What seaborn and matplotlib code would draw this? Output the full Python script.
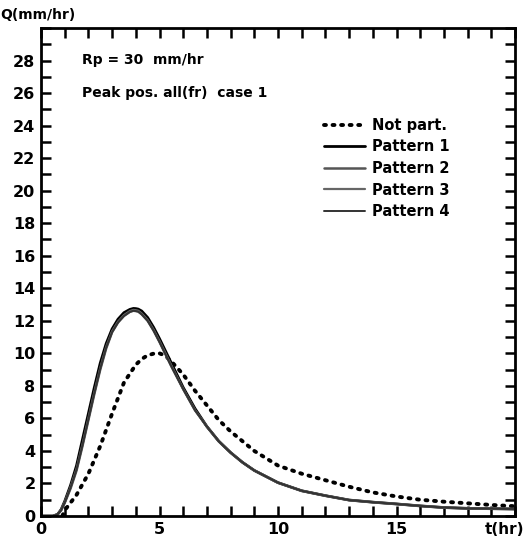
import numpy as np
import pandas as pd
import seaborn as sns
import matplotlib
matplotlib.use("Agg")
import matplotlib.pyplot as plt

# ---- data ----
t_np = [0.9, 1.0, 1.5, 2.0, 2.5, 3.0, 3.5, 4.0, 4.25, 4.5, 4.75, 5.0, 5.25, 5.5, 6.0, 6.5, 7.0, 7.5,
        8.0, 9.0, 10, 11, 12, 13, 14, 15, 16, 17, 18, 19, 20]
q_np = [0.0, 0.35, 1.3, 2.6, 4.3, 6.3, 8.2, 9.3, 9.65, 9.88, 9.98, 10.0, 9.85, 9.5, 8.7, 7.7, 6.8, 5.9,
        5.2, 4.0, 3.1, 2.6, 2.2, 1.8, 1.45, 1.2, 1.0, 0.88, 0.78, 0.68, 0.6]

t_pat = [0, 0.5, 0.7, 0.85, 1.0, 1.25, 1.5, 1.75, 2.0, 2.25, 2.5, 2.75, 3.0, 3.25, 3.5, 3.75,
         3.9, 4.0, 4.1, 4.25, 4.5, 4.75, 5.0, 5.5, 6, 6.5, 7, 7.5, 8, 8.5, 9, 10, 11, 12, 13, 14, 15,
         16, 17, 18, 19, 20]
q_p1 = [0, 0, 0.1, 0.4, 0.9, 1.9, 3.1, 4.7, 6.3, 7.9, 9.4, 10.6, 11.5, 12.1, 12.5, 12.7,
        12.76, 12.75, 12.72, 12.6, 12.2, 11.6, 10.9, 9.4, 7.9, 6.6, 5.5, 4.6, 3.9, 3.3, 2.8, 2.05, 1.55,
        1.25, 0.98, 0.85, 0.74, 0.62, 0.52, 0.47, 0.45, 0.43]
q_p2 = [0, 0, 0.1, 0.35, 0.8, 1.7, 2.8, 4.3, 5.9, 7.5, 9.0, 10.3, 11.3, 11.9, 12.3, 12.55,
        12.62, 12.6, 12.57, 12.4, 12.0, 11.4, 10.7, 9.2, 7.8, 6.5, 5.5, 4.6, 3.9, 3.3, 2.8, 2.05, 1.55,
        1.25, 0.98, 0.85, 0.74, 0.62, 0.52, 0.47, 0.45, 0.43]
q_p3 = [0, 0, 0.1, 0.38, 0.85, 1.8, 2.9, 4.4, 6.0, 7.6, 9.1, 10.4, 11.35, 11.95, 12.35, 12.6,
        12.67, 12.65, 12.62, 12.45, 12.05, 11.45, 10.75, 9.25, 7.8, 6.5, 5.5, 4.6, 3.9, 3.3, 2.8, 2.05, 1.55,
        1.25, 0.98, 0.85, 0.74, 0.62, 0.52, 0.47, 0.45, 0.43]
q_p4 = [0, 0, 0.1, 0.36, 0.82, 1.75, 2.85, 4.35, 5.95, 7.55, 9.05, 10.35, 11.3, 11.9, 12.3, 12.55,
        12.62, 12.6, 12.57, 12.4, 12.0, 11.4, 10.7, 9.2, 7.8, 6.5, 5.5, 4.6, 3.9, 3.3, 2.8, 2.05, 1.55,
        1.25, 0.98, 0.85, 0.74, 0.62, 0.52, 0.47, 0.45, 0.43]

x_tick_values = list(range(0, 21))
x_tick_labeled = [0, 5, 10, 15]
y_tick_values = list(range(0, 31))
y_tick_labeled = list(range(0, 30, 2))

sns.set_style("ticks")
plt.rcParams["font.family"] = ["DejaVu Sans"]
plt.rcParams["font.weight"] = "bold"
for k in ["text.color", "axes.labelcolor", "xtick.color", "ytick.color", "axes.edgecolor"]:
    plt.rcParams[k] = "black"

fig = plt.figure(figsize=(5.27, 5.43), dpi=100)
ax = fig.add_axes([41 / 527, 1 - 516 / 543, (515 - 41) / 527, (516 - 28) / 543])

df_np = pd.DataFrame({"t": t_np, "Q": q_np})
sns.lineplot(data=df_np, x="t", y="Q", ax=ax, color="black", lw=2.8,
             linestyle=(0, (0.5, 1.7)), label="Not part.", sort=False)
for q, lab, col, lw in [(q_p1, "Pattern 1", "#000000", 2.0),
                        (q_p2, "Pattern 2", "#555555", 1.8),
                        (q_p3, "Pattern 3", "#666666", 1.6),
                        (q_p4, "Pattern 4", "#333333", 1.4)]:
    df = pd.DataFrame({"t": t_pat, "Q": q})
    sns.lineplot(data=df, x="t", y="Q", ax=ax, color=col, lw=lw, label=lab, sort=False)

ax.lines[0].set_dash_capstyle("round")
for ln in ax.lines:
    ln.set_solid_joinstyle("round")

ax.set_xlim(0, 20)
ax.set_ylim(0, 30)
ax.set_xticks(x_tick_values)
ax.set_xticklabels([str(v) if v in x_tick_labeled else "" for v in x_tick_values])
ax.set_yticks(y_tick_values)
ax.set_yticklabels([str(v) if v in y_tick_labeled else "" for v in y_tick_values])
ax.tick_params(direction="in", length=7, width=1.8, top=True, right=True,
               labelsize=11.5, pad=4, colors="black")
for s in ax.spines.values():
    s.set_linewidth(2.0)
    s.set_color("black")
    s.set_visible(True)
ax.set_xlabel("")
ax.set_ylabel("")

fig.text(0.0, 1 - 15 / 543, "Q(mm/hr)", fontsize=10, fontweight="bold", va="center", ha="left")
fig.text(1 - 3 / 527, 1 - 530 / 543, "t(hr)", fontsize=11, fontweight="bold", va="center", ha="right")
fig.text(82 / 527, 1 - 60 / 543, "Rp = 30  mm/hr", fontsize=10, fontweight="bold", va="center")
fig.text(82 / 527, 1 - 93 / 543, "Peak pos. all(fr)  case 1", fontsize=10, fontweight="bold", va="center")

leg = ax.legend(loc="upper left", bbox_to_anchor=((318 - 41) / 474, 1 - (112 - 28) / 488),
                frameon=False, handlelength=2.8, handletextpad=0.5, labelspacing=0.45,
                prop={"weight": "bold", "size": 10.5}, borderaxespad=0)

fig.savefig("out.png", dpi=100)
